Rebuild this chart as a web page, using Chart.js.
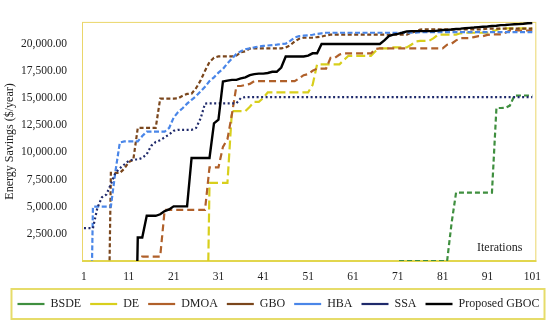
<!DOCTYPE html>
<html>
<head>
<meta charset="utf-8">
<script src="https://cdn.jsdelivr.net/npm/chart.js@4.4.1/dist/chart.umd.min.js"></script>
<style>
html,body{margin:0;padding:0;background:#fff;}
#wrap{width:550px;height:327px;position:relative;}
</style>
</head>
<body>
<div id="wrap"><canvas id="c"></canvas></div>
<script>
// Iterations (x categories)
const iterations = [
  1,2,3,4,5,6,7,8,9,10,11,12,13,14,15,16,17,18,19,20,
  21,22,23,24,25,26,27,28,29,30,31,32,33,34,35,36,37,38,39,40,
  41,42,43,44,45,46,47,48,49,50,51,52,53,54,55,56,57,58,59,60,
  61,62,63,64,65,66,67,68,69,70,71,72,73,74,75,76,77,78,79,80,
  81,82,83,84,85,86,87,88,89,90,91,92,93,94,95,96,97,98,99,100,101
];
const xTickLabels = [1, 11, 21, 31, 41, 51, 61, 71, 81, 91, 101];
const yTickValues = [0, 2500, 5000, 7500, 10000, 12500, 15000, 17500, 20000, 22000];
const seriesNames = ['BSDE', 'DE', 'DMOA', 'GBO', 'HBA', 'SSA', 'Proposed GBOC'];

// values below the visible range (off-chart) are given as -20000
const bsde = [
  -20000,-20000,-20000,-20000,-20000,-20000,-20000,-20000,-20000,-20000,
  -20000,-20000,-20000,-20000,-20000,-20000,-20000,-20000,-20000,-20000,
  -20000,-20000,-20000,-20000,-20000,-20000,-20000,-20000,-20000,-20000,
  -20000,-20000,-20000,-20000,-20000,-20000,-20000,-20000,-20000,-20000,
  -20000,-20000,-20000,-20000,-20000,-20000,-20000,-20000,-20000,-20000,
  -20000,-20000,-20000,-20000,-20000,-20000,-20000,-20000,-20000,-20000,
  -20000,-20000,-20000,-20000,-20000,-20000,-20000,-20000,-20000,-20000,
  0,0,0,0,0,0,0,0,0,0,0,0,
  3500,6300,
  6300,6300,6300,6300,6300,6300,6300,6300,
  14080,14080,14100,14300,15200,
  15230,15230,15230,15230
];
const de = [
  -20000,-20000,-20000,-20000,-20000,-20000,-20000,-20000,-20000,-20000,
  -20000,-20000,-20000,-20000,-20000,-20000,-20000,-20000,-20000,-20000,
  -20000,-20000,-20000,-20000,-20000,-20000,-20000,-20000,
  7180,7180,7180,7180,7180,
  13790,13790,13790,13790,
  14200,14650,14650,15000,
  15520,15520,15520,15520,15520,15520,15520,15520,15520,15520,
  16200,
  18100,18100,18100,18100,18100,18100,
  18500,
  18880,18880,18880,18880,18880,18880,
  19300,
  19570,19570,19570,
  19650,19650,19650,19650,
  19900,20200,
  20260,20260,20260,
  20500,
  20830,20830,20830,20830,20830,
  20950,
  21000,21000,21000,21000,21000,21000,
  21100,21250,
  21400,21400,21400,21400,21400,21400,21400,21400
];
const dmoa = [
  -20000,-20000,-20000,-20000,-20000,-20000,-20000,-20000,-20000,-20000,
  -20000,-20000,-20000,
  400,400,400,400,400,
  4700,4700,4700,4700,4700,4700,4700,4700,4700,4700,
  8620,8620,8620,
  10500,11200,13500,16100,16100,16200,16300,
  16550,16550,16550,16550,16550,16550,16550,16550,16550,16550,
  16800,17100,17200,17500,
  17700,17700,17700,
  18700,18700,19000,
  19100,19100,19100,19100,19100,19100,19100,
  19500,
  19570,19570,19570,19570,19570,19570,19570,19570,19570,19570,19570,19570,19570,19570,19570,
  19900,20000,20300,
  20500,20500,20500,
  20600,
  20690,20690,
  20800,
  20860,20860,20860,
  21000,
  21210,21210,21210,21210,21210,21210
];
const gbo = [
  -20000,-20000,-20000,-20000,-20000,-20000,
  8100,8100,8100,8500,9100,9300,
  12240,12240,12240,12240,12240,
  14940,14940,14940,14940,
  14960,15200,15370,15400,15900,16600,17500,18300,18700,
  18820,18820,18820,18820,
  18900,19200,19300,19540,
  19560,19560,19560,19560,19560,19560,19560,
  19650,19850,20200,20450,20540,20540,20560,20600,20650,20750,
  20830,20830,20830,20830,20830,20830,20830,20830,20830,
  20830,20830,20830,20830,20830,20830,20830,20830,20830,
  21000,21120,21300,
  21320,21320,21320,21320,21320,21320,21320,21320,21320,21320,21320,21320,21320,21320,
  21380,21380,21380,21380,21380,21380,21380,21380,21380,21380,21380
];
const hba = [
  -20000,-20000,
  5000,5000,5000,5000,5000,
  8200,10900,
  11000,11000,11000,11000,
  11500,
  11900,11900,11900,11900,11900,
  12240,13190,13700,14050,14480,14830,15170,15600,16030,16550,16900,
  17330,17670,18190,18620,19050,19310,19480,19570,19650,19740,
  19790,19830,19870,19910,19960,20000,20260,20560,20690,20730,
  20770,20820,20900,20950,
  21000,21000,21000,21000,21000,21000,21000,21000,21000,21000,21000,
  21000,21000,21000,21000,21000,21000,21000,21000,21000,21000,
  21050,21050,21050,21050,21050,21050,21050,21050,21050,21050,21050,21050,21050,
  21050,21050,21050,21050,21050,21050,21050,21050,21050,21050,21050,21050,21050
];
const ssa = [
  3020,3020,3020,
  4900,5860,6120,7070,8100,8530,8880,9220,9340,9340,
  9480,9830,10600,10950,11120,11380,11640,11980,
  12070,12070,12070,12070,
  12240,13100,14480,
  14510,14510,14510,14510,14510,14510,14510,
  15000,
  15085,15085,15085,15085,15085,15085,15085,15085,15085,15085,15085,15085,15085,
  15085,15085,15085,15085,15085,15085,15085,15085,15085,15085,15085,15085,15085,
  15085,15085,15085,15085,15085,15085,15085,15085,15085,15085,15085,15085,15085,
  15085,15085,15085,15085,15085,15085,15085,15085,15085,15085,15085,15085,15085,
  15085,15085,15085,15085,15085,15085,15085,15085,15085,15085,15085,15085,15085
];
const proposed = [
  -20000,-20000,-20000,-20000,-20000,-20000,-20000,-20000,-20000,-20000,-20000,-20000,
  2160,2160,
  4160,4160,4160,
  4300,4600,4740,
  5030,5030,5030,5030,
  9480,9480,9480,9480,9480,
  12670,13000,16520,16600,16670,16670,16800,16900,17100,17200,
  17240,17240,17300,17410,17410,17800,
  18820,18820,18820,18820,18820,
  18900,19110,19110,
  19970,19970,19970,19970,19970,19970,19970,19970,19970,19970,19970,19970,19970,19970,
  20300,20700,20830,20900,21000,21120,
  21150,21150,21150,21150,21150,21150,
  21200,21250,21270,21300,21350,21380,21420,21450,21480,21520,21550,
  21580,21620,21650,21700,21720,21750,21780,21800,21830,21870,21900
];

const seriesValues = [bsde, de, dmoa, gbo, hba, ssa, proposed];
const seriesColors = ['#3f8f3f', '#d8cf1c', '#b0602a', '#7a461c', '#4a86e8', '#1f2a6b', '#000000'];
const seriesDashes = [[5,3], [9,4], [7,4], [4,2.5], [5,2.5], [2,2.5], []];
const seriesWidths = [2.2, 2.2, 2.2, 2.2, 2.2, 2.2, 2.4];

const FONT = '"Liberation Serif", "Times New Roman", serif';
const TXT = '#222222';
const LEGEND_SHIFT = 8;

const datasets = seriesNames.map((name, k) => ({
  label: name,
  data: seriesValues[k].map((v, i) => ({x: iterations[i], y: v})),
  borderColor: seriesColors[k],
  backgroundColor: seriesColors[k],
  borderDash: seriesDashes[k],
  borderWidth: seriesWidths[k],
  pointRadius: 0,
  tension: 0,
  fill: false,
  order: seriesNames.length - 1 - k
}));

const decorPlugin = {
  id: 'decor',
  afterLayout(chart) {
    const lg = chart.legend;
    if (lg) { lg.left += LEGEND_SHIFT; lg.right += LEGEND_SHIFT; }
  },
  beforeDatasetsDraw(chart) {
    const {ctx, chartArea: a} = chart;
    ctx.save();
    ctx.strokeStyle = '#ead66a';
    ctx.lineWidth = 1;
    ctx.strokeRect(a.left + 0.5, a.top + 0.5, a.right - a.left - 1, a.bottom - a.top);
    ctx.strokeStyle = '#e2d64e';
    ctx.lineWidth = 2;
    ctx.beginPath();
    ctx.moveTo(a.left, a.bottom);
    ctx.lineTo(a.right, a.bottom);
    ctx.stroke();
    ctx.restore();
  },
  afterDatasetsDraw(chart) {
    const {ctx, chartArea: a} = chart;
    ctx.save();
    ctx.font = '12px ' + FONT;
    ctx.fillStyle = TXT;
    ctx.textAlign = 'right';
    ctx.textBaseline = 'middle';
    ctx.fillText('Iterations', a.right - 14, a.bottom - 13.5);
    ctx.restore();
  },
  afterDraw(chart) {
    const lg = chart.legend;
    if (!lg || !lg.lineWidths) return;
    const pad = lg.options.labels.padding;
    const lw = lg.lineWidths[0];
    const start = (lg.left + pad + lg.right - lw) / 2;
    const end = start + lw - pad;
    const ctx = chart.ctx;
    ctx.save();
    ctx.strokeStyle = '#e6dc6a';
    ctx.lineWidth = 2;
    ctx.strokeRect(start - 6, lg.top, (end + 5) - (start - 6), lg.bottom - lg.top - 1);
    ctx.restore();
  }
};

new Chart(document.getElementById('c'), {
  type: 'line',
  data: { datasets },
  options: {
    responsive: true,
    maintainAspectRatio: false,
    animation: false,
    devicePixelRatio: 1,
    layout: { padding: { left: 0, right: 9, top: 5, bottom: 7 } },
    scales: {
      x: {
        type: 'linear',
        min: 0.56,
        max: 101.9,
        grid: { display: false, drawTicks: false },
        border: { display: false },
        afterBuildTicks: (s) => { s.ticks = xTickLabels.map(v => ({ value: v })); },
        afterFit: (s) => { s.height = 28; },
        ticks: {
          padding: 9,
          autoSkip: false,
          maxRotation: 0,
          color: TXT,
          font: { family: FONT, size: 11.5 },
          callback: (v) => String(v)
        }
      },
      y: {
        min: 0,
        max: 22000,
        grid: { display: false, drawTicks: false },
        border: { display: false },
        afterBuildTicks: (s) => { s.ticks = yTickValues.map(v => ({ value: v })); },
        afterFit: (s) => { s.width = 82; },
        ticks: {
          padding: 15,
          autoSkip: false,
          color: TXT,
          font: { family: FONT, size: 11.5 },
          callback: (v) => (v <= 0 || v > 20000) ? '' :
            v.toLocaleString('en-US', { minimumFractionDigits: 2, maximumFractionDigits: 2 })
        },
        title: {
          display: true,
          text: 'Energy Savings ($/year)',
          color: TXT,
          font: { family: FONT, size: 12 },
          padding: { top: 3, bottom: 0 }
        }
      }
    },
    plugins: {
      legend: {
        position: 'bottom',
        labels: {
          usePointStyle: true,
          pointStyle: 'line',
          pointStyleWidth: 27,
          padding: 9,
          color: TXT,
          font: { family: FONT, size: 12 },
          sort: (a, b) => a.datasetIndex - b.datasetIndex
        }
      },
      tooltip: { enabled: false }
    }
  },
  plugins: [decorPlugin]
});
</script>
</body>
</html>
